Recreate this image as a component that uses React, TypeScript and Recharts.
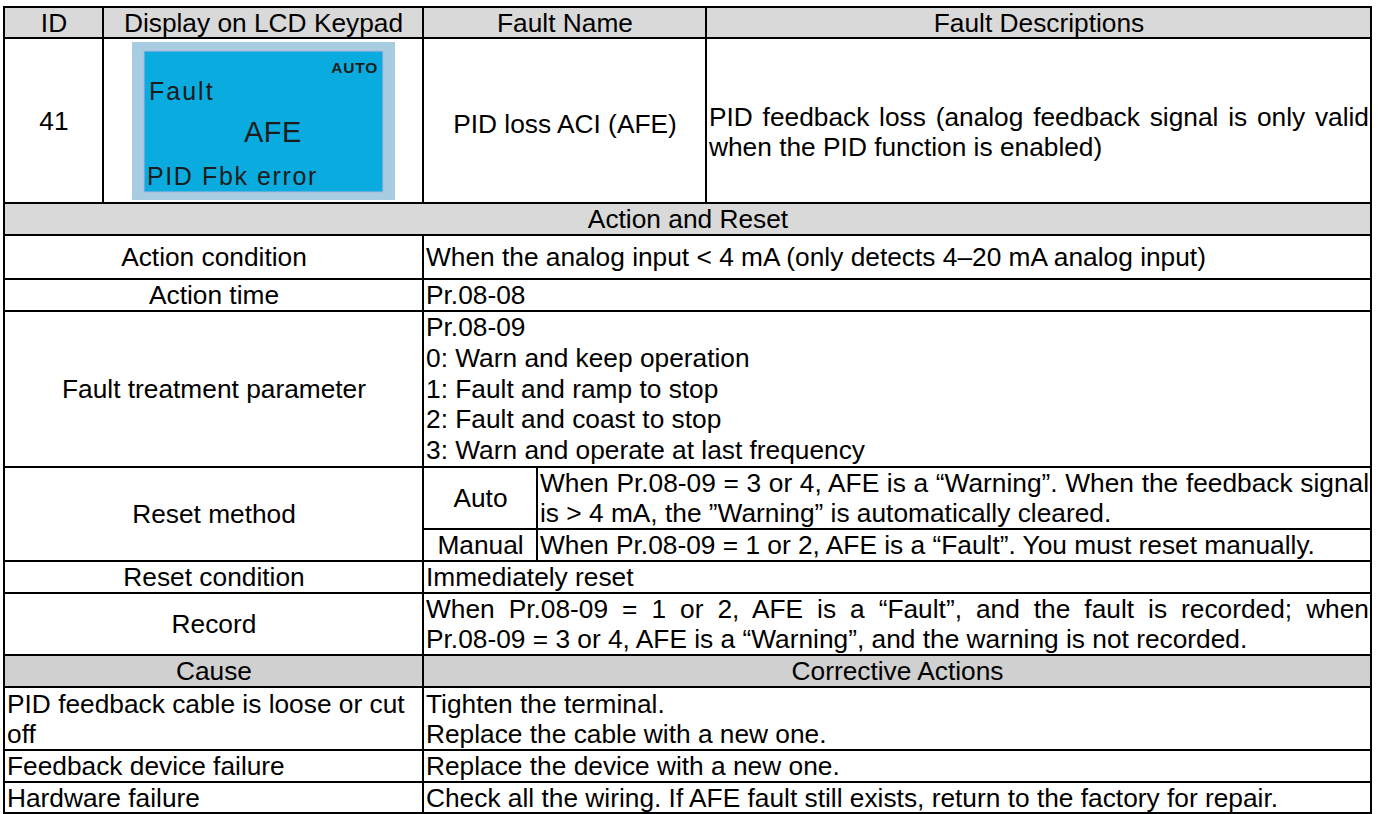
import React from 'react';
import { Surface, Rectangle, Text } from 'recharts';

// header + fault row
const headerLabels = ['ID', 'Display on LCD Keypad', 'Fault Name', 'Fault Descriptions'];
const faultId = '41';
const lcdTexts = ['AUTO', 'Fault', 'AFE', 'PID Fbk error'];
const faultName = 'PID loss ACI (AFE)';
const faultDescription = [
  'PID feedback loss (analog feedback signal is only valid',
  'when the PID function is enabled)',
];

// action and reset section
const sectionTitle = 'Action and Reset';
const actionLabels = ['Action condition', 'Action time', 'Fault treatment parameter'];
const actionValues = [
  ['When the analog input < 4 mA (only detects 4–20 mA analog input)'],
  ['Pr.08-08'],
  [
    'Pr.08-09',
    '0: Warn and keep operation',
    '1: Fault and ramp to stop',
    '2: Fault and coast to stop',
    '3: Warn and operate at last frequency',
  ],
];
const resetLabel = 'Reset method';
const resetModes = ['Auto', 'Manual'];
const resetModeTexts = [
  [
    'When Pr.08-09 = 3 or 4, AFE is a “Warning”. When the feedback signal',
    'is > 4 mA, the ”Warning” is automatically cleared.',
  ],
  ['When Pr.08-09 = 1 or 2, AFE is a “Fault”. You must reset manually.'],
];
const afterLabels = ['Reset condition', 'Record'];
const afterValues = [
  ['Immediately reset'],
  [
    'When Pr.08-09 = 1 or 2, AFE is a “Fault”, and the fault is recorded; when',
    'Pr.08-09 = 3 or 4, AFE is a “Warning”, and the warning is not recorded.',
  ],
];

// cause section
const causeHeaders = ['Cause', 'Corrective Actions'];
const causes = [
  ['PID feedback cable is loose or cut', 'off'],
  ['Feedback device failure'],
  ['Hardware failure'],
];
const corrections = [
  ['Tighten the terminal.', 'Replace the cable with a new one.'],
  ['Replace the device with a new one.'],
  ['Check all the wiring. If AFE fault still exists, return to the factory for repair.'],
];

const FONT = '"Liberation Sans", Arial, sans-serif';
const GRAY = '#d9d9d9';
const GRAY_DARK = '#d0d0d0';

type CellProps = {
  row: string;
  col: string;
  align?: 'center' | 'left';
  bg?: string;
  style?: React.CSSProperties;
  children?: React.ReactNode;
};

function Cell({ row, col, align = 'center', bg = '#fff', style, children }: CellProps) {
  return (
    <div
      style={{
        gridRow: row,
        gridColumn: col,
        background: bg,
        display: 'flex',
        flexDirection: 'column',
        justifyContent: 'center',
        alignItems: align === 'center' ? 'center' : 'stretch',
        textAlign: align,
        padding: '0 1px 0 2px',
        overflow: 'visible',
        ...style,
      }}
    >
      {children}
    </div>
  );
}

function Lines({ lines, justify = false }: { lines: string[]; justify?: boolean }) {
  return (
    <>
      {lines.map((l, i) => (
        <div
          key={i}
          style={
            justify && i < lines.length - 1
              ? { textAlign: 'justify', textAlignLast: 'justify', whiteSpace: 'nowrap' }
              : { whiteSpace: 'nowrap' }
          }
        >
          {l}
        </div>
      ))}
    </>
  );
}

function LcdPanel() {
  const [mode, title, code, message] = lcdTexts;
  return (
    <Surface width={263} height={158}>
      <Rectangle x={0} y={0} width={263} height={158} fill="#a9cde0" />
      <Rectangle x={12} y={9} width={239} height={141} fill="#0aabdf" stroke="#b6b3dd" strokeWidth={1} />
      <Text x={246} y={31} textAnchor="end" fontSize={15.5} fontWeight="bold" letterSpacing={0.8} fill="#1c1c1c" fontFamily={FONT}>
        {mode}
      </Text>
      <Text x={17} y={58} fontSize={25} letterSpacing={2} fill="#1c1c1c" fontFamily={FONT}>
        {title}
      </Text>
      <Text x={112} y={100} fontSize={29} letterSpacing={0.5} fill="#1c1c1c" fontFamily={FONT}>
        {code}
      </Text>
      <Text x={15} y={143} fontSize={25} letterSpacing={1.6} fill="#1c1c1c" fontFamily={FONT}>
        {message}
      </Text>
    </Surface>
  );
}

export default function App() {
  return (
    <div
      style={{
        position: 'absolute',
        left: 3,
        top: 6,
        display: 'grid',
        gridTemplateColumns: '97px 318px 112px 167px 663px',
        gridTemplateRows: '29px 163px 30px 42px 30px 154px 60px 30px 30px 60px 30px 61px 30px 29px',
        gap: 2,
        padding: 2,
        background: '#000',
        fontFamily: FONT,
        fontSize: 26.3,
        lineHeight: '30px',
        color: '#000',
      }}
    >
      {/* header */}
      <Cell row="1" col="1" bg={GRAY}>{headerLabels[0]}</Cell>
      <Cell row="1" col="2" bg={GRAY}>{headerLabels[1]}</Cell>
      <Cell row="1" col="3 / 5" bg={GRAY}>{headerLabels[2]}</Cell>
      <Cell row="1" col="5" bg={GRAY}>{headerLabels[3]}</Cell>

      {/* fault row */}
      <Cell row="2" col="1">{faultId}</Cell>
      <Cell row="2" col="2">
        <LcdPanel />
      </Cell>
      <Cell row="2" col="3 / 5" style={{ paddingTop: 7 }}>{faultName}</Cell>
      <Cell row="2" col="5" align="left" style={{ paddingTop: 23 }}>
        <Lines lines={faultDescription} justify />
      </Cell>

      <Cell row="3" col="1 / 6" bg={GRAY}>{sectionTitle}</Cell>

      {actionLabels.map((label, i) => (
        <React.Fragment key={label}>
          <Cell row={String(4 + i)} col="1 / 3">{label}</Cell>
          <Cell row={String(4 + i)} col="3 / 6" align="left" style={{ lineHeight: i === 2 ? '30.8px' : '30px' }}>
            <Lines lines={actionValues[i]} />
          </Cell>
        </React.Fragment>
      ))}

      <Cell row="7 / 9" col="1 / 3">{resetLabel}</Cell>
      {resetModes.map((mode, i) => (
        <React.Fragment key={mode}>
          <Cell row={String(7 + i)} col="3">{mode}</Cell>
          <Cell row={String(7 + i)} col="4 / 6" align="left">
            <Lines lines={resetModeTexts[i]} justify />
          </Cell>
        </React.Fragment>
      ))}

      {afterLabels.map((label, i) => (
        <React.Fragment key={label}>
          <Cell row={String(9 + i)} col="1 / 3">{label}</Cell>
          <Cell row={String(9 + i)} col="3 / 6" align="left">
            <Lines lines={afterValues[i]} justify />
          </Cell>
        </React.Fragment>
      ))}

      <Cell row="11" col="1 / 3" bg={GRAY_DARK}>{causeHeaders[0]}</Cell>
      <Cell row="11" col="3 / 6" bg={GRAY_DARK}>{causeHeaders[1]}</Cell>

      {causes.map((c, i) => (
        <React.Fragment key={i}>
          <Cell row={String(12 + i)} col="1 / 3" align="left">
            <Lines lines={c} />
          </Cell>
          <Cell row={String(12 + i)} col="3 / 6" align="left">
            <Lines lines={corrections[i]} />
          </Cell>
        </React.Fragment>
      ))}
    </div>
  );
}
